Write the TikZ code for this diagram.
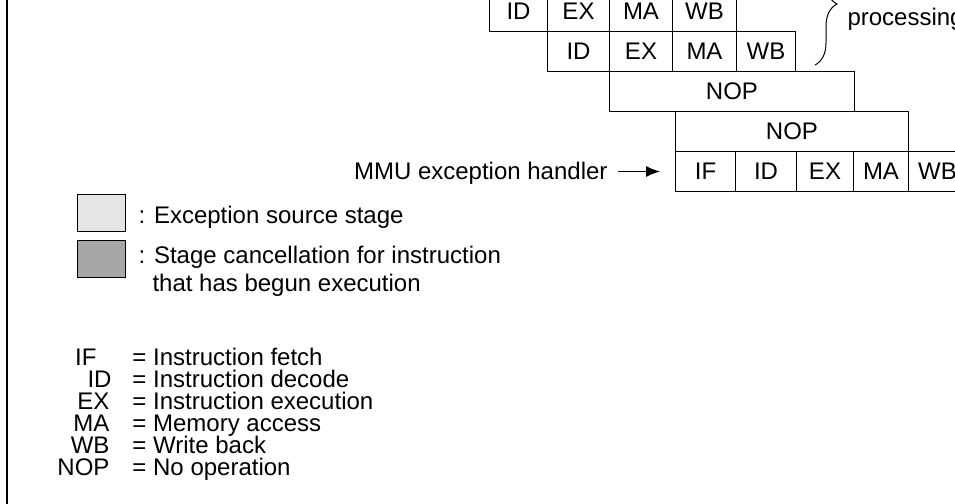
\documentclass[tikz,border=0pt]{standalone}
\usepackage{fontspec}
\setsansfont{Liberation Sans}
\usetikzlibrary{arrows.meta,decorations.pathreplacing}

\definecolor{srcgray}{RGB}{229,229,229}
\definecolor{cangray}{RGB}{166,166,166}

\tikzset{
	stagebox/.style={draw, inner sep=0pt, minimum height=20pt, anchor=north west},
	keybox/.style={draw, inner sep=0pt, minimum width=24pt, minimum height=18.5pt, anchor=north west},
	plain/.style={inner sep=0pt},
}

% pipeline stage: name, left x, right x, top y, text
\newcommand{\stage}[5]{
	\node[stagebox, minimum width={(#3-#2)*0.5pt}] (#1) at (#2, #4) {#5};
}

% abbreviation line: name, right end of abbreviation, baseline, abbreviation, meaning
\newcommand{\abbrline}[5]{
	\node[plain, anchor=base east] (#1abbr) at (#2, #3) {#4};
	\node[plain, anchor=base west] (#1text) at (132, #3) {= #5};
}

\begin{document}
\begin{tikzpicture}[x=0.5pt, y=-0.5pt, >={Latex[length=7pt,width=5.5pt]}, font=\sffamily\fontsize{12}{14}\selectfont, line width=0.5pt]
	\useasboundingbox (0,0) rectangle (955,504);
	\clip (0,0) rectangle (955,504);

	\draw[line width=1.2pt] (7,0) -- (7,504);

	% instruction before the exception
	\stage{ida}{489}{547}{-9}{ID}
	\stage{exa}{547}{609}{-9}{EX}
	\stage{maa}{609}{672}{-9}{MA}
	\stage{wba}{672}{736}{-9}{WB}

	\stage{idb}{547}{609}{31}{ID}
	\stage{exb}{609}{672}{31}{EX}
	\stage{mab}{672}{736}{31}{MA}
	\stage{wbb}{736}{795}{31}{WB}

	\stage{nopc}{609}{854}{71}{NOP}
	\stage{nopd}{675}{908}{111}{NOP}

	% handler
	\stage{ife}{675}{735}{151}{IF}
	\stage{ide}{735}{796}{151}{ID}
	\stage{exe}{796}{853}{151}{EX}
	\stage{mae}{853}{908}{151}{MA}
	\stage{wbe}{908}{966}{151}{WB}

	\draw[decorate, decoration={brace, amplitude=11pt}] (815,-57) -- (815,65);
	\node[plain, anchor=base west] (proc) at (847,25) {processing};

	\node[plain, anchor=base east] (mmu) at (608,179) {MMU exception handler};
	\draw[->] ([xshift=5pt]mmu.east |- ife.west) -- ([xshift=-7.5pt]ife.west);

	% key
	\node[keybox, fill=srcgray] (keysrc) at (77,194) {};
	\node[keybox, fill=cangray] (keycan) at (77,240) {};
	\node[plain, anchor=base west] (srctext) at (138,223) {: Exception source stage};
	\node[plain, anchor=base west] (cantext) at (138,263) {: Stage cancellation for instruction};
	\node[plain, anchor=base west] (cantextb) at (152,291) {that has begun execution};

	\abbrline{if}{97}{365}{IF}{Instruction fetch}
	\abbrline{id}{112}{387}{ID}{Instruction decode}
	\abbrline{ex}{110}{409}{EX}{Instruction execution}
	\abbrline{ma}{110}{431}{MA}{Memory access}
	\abbrline{wb}{110}{453}{WB}{Write back}
	\abbrline{nop}{110}{475}{NOP}{No operation}
\end{tikzpicture}
\end{document}
